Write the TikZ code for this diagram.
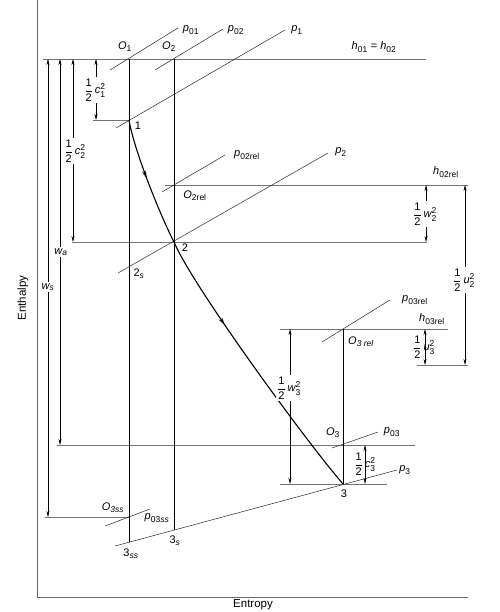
\documentclass[tikz,border=0pt]{standalone}
\usepackage{amsmath}
\usepackage{fontspec}
\setmainfont{Liberation Sans}
\DeclareMathSizes{11}{11}{8.5}{7}
\usetikzlibrary{arrows.meta,decorations.markings}
\newcommand\vs[2]{$\textit{#1}_{\text{#2}}$}
\newcommand\hf[2]{$\dfrac{\text{1}}{\text{2}}\,\textit{#1}^{\text{2}}_{\text{#2}}$}
\begin{document}
\begin{tikzpicture}[x=1pt,y=-1pt,
  lbl/.style={font=\fontsize{11}{13}\selectfont, inner sep=1pt},
  gap/.style={lbl, fill=white, inner sep=1.5pt},
  hline/.style={draw=black!55, line width=0.7pt},
  vline/.style={draw=black, line width=0.6pt},
  iso/.style={draw=black!85, line width=0.5pt},
  dim/.style={draw=black, line width=0.5pt, {Stealth[length=6pt,width=3pt]}-{Stealth[length=6pt,width=3pt]}},
  proc/.style={draw=black, line width=1.1pt, postaction={decorate}},
  axis/.style={draw=black!60, line width=0.8pt}]
\useasboundingbox (0,0) rectangle (499,612);
% axes
\coordinate (ax0) at (37,0);
\coordinate (axo) at (37,597);
\coordinate (ax1) at (468,597);
\draw[axis] (ax0) -- (axo) -- (ax1);
\node[lbl, rotate=90, font=\fontsize{11.5}{13}\selectfont] (enth) at (23,298) {Enthalpy};
\node[lbl, font=\fontsize{11.5}{13}\selectfont] (entr) at (253,605) {Entropy};
% key points
\coordinate (O1) at (129,59);
\coordinate (O2) at (174,59);
\coordinate (P1) at (129,120);
\coordinate (P2) at (174,242);
\coordinate (P3) at (343,484);
\coordinate (O2r) at (174,185);
\coordinate (O3r) at (343,329);
\coordinate (O3) at (343,445);
\coordinate (S3) at (174,530);
\coordinate (SS3) at (129,542);
\coordinate (O3ss) at (129,517);
% horizontal lines
\coordinate (h01a) at (43,59);   \coordinate (h01b) at (426,59);
\coordinate (h1a) at (93,120);
\coordinate (h2a) at (72,242);   \coordinate (h2b) at (427,242);
\coordinate (h2ra) at (165,185); \coordinate (h2rb) at (468,185);
\coordinate (h3ra) at (280,329); \coordinate (h3rb) at (448,329);
\coordinate (u3a) at (417,365);  \coordinate (u3b) at (468,365);
\coordinate (h03a) at (57,445);  \coordinate (h03b) at (415,445);
\coordinate (h3a) at (280,484);  \coordinate (h3b) at (387,484);
\coordinate (hssa) at (45,517);
\draw[hline] (h01a) -- (h01b);
\draw[hline] (h1a) -- (P1);
\draw[hline] (h2a) -- (h2b);
\draw[hline] (h2ra) -- (h2rb);
\draw[hline] (h3ra) -- (h3rb);
\draw[hline] (u3a) -- (u3b);
\draw[hline] (h03a) -- (h03b);
\draw[hline] (h3a) -- (h3b);
\draw[hline] (hssa) -- (O3ss);
% vertical lines
\draw[vline] (O1) -- (SS3);
\draw[vline] (O2) -- (S3);
\draw[vline] (O3r) -- (P3);
% isobars
\coordinate (p01a) at (110,70);  \coordinate (p01b) at (178,28);
\coordinate (p02a) at (155,70);  \coordinate (p02b) at (223,29);
\coordinate (p1a) at (116,128);  \coordinate (p1b) at (285,30);
\coordinate (p2ra) at (162,192); \coordinate (p2rb) at (225,155);
\coordinate (p2a) at (118,273);  \coordinate (p2b) at (328,153);
\coordinate (p3ra) at (322,342); \coordinate (p3rb) at (390,300);
\coordinate (p03a) at (332,448); \coordinate (p03b) at (378,432);
\coordinate (p3a) at (115,546);  \coordinate (p3b) at (397,470);
\coordinate (pssa) at (105,526); \coordinate (pssb) at (150,509);
\draw[iso] (p01a) -- (p01b);
\draw[iso] (p02a) -- (p02b);
\draw[iso] (p1a) -- (p1b);
\draw[iso] (p2ra) -- (p2rb);
\draw[iso] (p2a) -- (p2b);
\draw[iso] (p3ra) -- (p3rb);
\draw[iso] (p03a) -- (p03b);
\draw[iso] (p3a) -- (p3b);
\draw[iso] (pssa) -- (pssb);
% process curve
\draw[proc, decoration={markings, mark=at position 0.47 with {\arrow{Stealth[length=8pt,width=4pt]}}}]
  (P1) .. controls (134,150) and (160,215) .. (P2);
\draw[proc, decoration={markings, mark=at position 0.33 with {\arrow{Stealth[length=8pt,width=4pt]}}}]
  (P2) .. controls (192,285) and (305,440) .. (P3);
% dimension arrows (left)
\coordinate (c1t) at (96,59);  \coordinate (c1b) at (96,120);
\coordinate (c2t) at (73,59);  \coordinate (c2b) at (73,242);
\coordinate (wat) at (60,59);  \coordinate (wab) at (60,445);
\coordinate (wst) at (48,59);  \coordinate (wsb) at (48,517);
\draw[dim] (c1t) -- (c1b);
\draw[dim] (c2t) -- (c2b);
\draw[dim] (wat) -- (wab);
\draw[dim] (wst) -- (wsb);
\node[gap] (lc1) at (95,90) {\hf{c}{1}};
\node[gap] (lc2) at (75,151) {\hf{c}{2}};
\node[gap] (lwa) at (61,252) {$\textit{w}_{\textit{a}}$};
\node[gap] (lws) at (48,287) {$\textit{w}_{\textit{s}}$};
% dimension arrows (right)
\coordinate (w2t) at (426,185); \coordinate (w2b) at (426,242);
\coordinate (u2t) at (465,185); \coordinate (u2b) at (465,365);
\coordinate (w3t) at (290,329); \coordinate (w3b) at (290,484);
\coordinate (u3t) at (425,329); \coordinate (u3bb) at (425,365);
\coordinate (c3t) at (365,445); \coordinate (c3b) at (365,484);
\draw[dim] (w2t) -- (w2b);
\draw[dim] (u2t) -- (u2b);
\draw[dim] (w3t) -- (w3b);
\draw[dim] (u3t) -- (u3bb);
\draw[dim] (c3t) -- (c3b);
\node[gap] (lw2) at (425,214) {\hf{w}{2}};
\node[gap] (lu2) at (464,280) {\hf{u}{2}};
\node[gap] (lw3) at (289,388) {\hf{w}{3}};
\node[lbl] (lu3) at (424,347) {\hf{u}{3}};
\node[lbl] (lc3) at (365,464) {\hf{c}{3}};
% point labels
\node[lbl] (tO1) at (125,47) {$\textit{O}_{\text{1}}$};
\node[lbl] (tO2) at (169,47) {$\textit{O}_{\text{2}}$};
\node[lbl] (tp01) at (191,30) {\vs{p}{01}};
\node[lbl] (tp02) at (236,30) {\vs{p}{02}};
\node[lbl] (tp1) at (297,30) {\vs{p}{1}};
\node[lbl] (th01) at (374,47) {\vs{h}{01} = \vs{h}{02}};
\node[lbl] (t1) at (138,126) {1};
\node[lbl] (t2) at (185,248) {2};
\node[lbl] (t2s) at (139,274) {$\text{2}_{\textit{s}}$};
\node[lbl] (tO2r) at (195,196) {\vs{O}{2rel}};
\node[lbl] (tp2r) at (247,155) {\vs{p}{02rel}};
\node[lbl] (tp2) at (341,152) {\vs{p}{2}};
\node[lbl] (th2r) at (446,172) {\vs{h}{02rel}};
\node[lbl] (tp3r) at (415,300) {\vs{p}{03rel}};
\node[lbl] (th3r) at (432,319) {\vs{h}{03rel}};
\node[lbl] (tO3r) at (361,342) {$\textit{O}_{\textit{3 rel}}$};
\node[lbl] (tO3) at (333,433) {$\textit{O}_{\text{3}}$};
\node[lbl] (tp03) at (392,432) {\vs{p}{03}};
\node[lbl] (tp3) at (405,470) {\vs{p}{3}};
\node[lbl] (t3) at (344,494) {3};
\node[lbl] (t3s) at (175,541) {$\text{3}_{\textit{s}}$};
\node[lbl] (t3ss) at (131,554) {$\text{3}_{\textit{ss}}$};
\node[lbl] (tO3ss) at (113,508) {$\textit{O}_{\textit{3ss}}$};
\node[lbl] (tp3ss) at (157,518) {$\textit{p}_{\text{03}\textit{ss}}$};
\end{tikzpicture}
\end{document}
